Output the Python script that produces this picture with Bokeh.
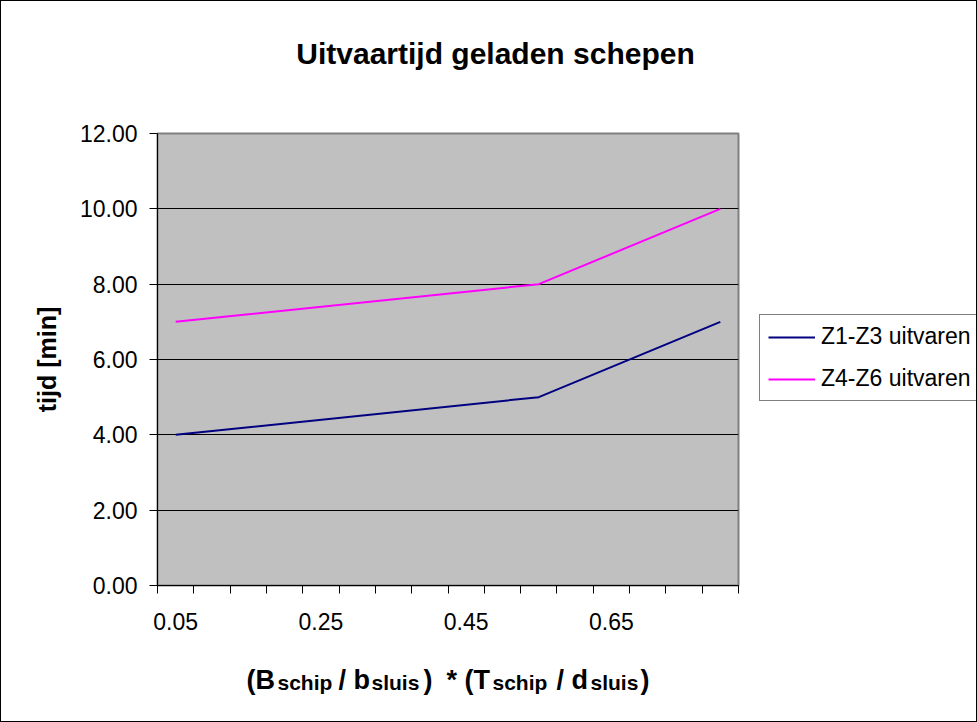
from bokeh.plotting import figure
from bokeh.layouts import column, row
from bokeh.models import (Legend, LegendItem, FixedTicker, NumeralTickFormatter,
                          Range1d, ColumnDataSource)
from bokeh.core.properties import value
from bokeh.embed import file_html
from bokeh.resources import INLINE

# ---- data -------------------------------------------------------------
ratio = [0.05, 0.55, 0.80]          # (B_schip/b_sluis)*(T_schip/d_sluis)
z1_z3 = [4.0, 5.0, 7.0]             # tijd [min], Z1-Z3 uitvaren
z4_z6 = [7.0, 8.0, 10.0]            # tijd [min], Z4-Z6 uitvaren
series_names = ["Z1-Z3 uitvaren", "Z4-Z6 uitvaren"]
series_colors = ["#000080", "#FF00FF"]
x_labels = [0.05, 0.25, 0.45, 0.65]
y_ticks = [0, 2, 4, 6, 8, 10, 12]
step = 0.05                          # category width on the x axis
n_cat = 16
title = "Uitvaartijd geladen schepen"

FONT = "Liberation Sans"
W_MAIN, W_LEG = 757, 218
H_TOP, H_MAIN, H_XT = 100, 549, 71
L, R, T, B = 156, 20, 32, 65         # borders around the plot area


def blank_panel(w, h):
    """A figure whose whole canvas is the frame, in pixel units."""
    f = figure(width=w, height=h, output_backend="svg", toolbar_location=None,
               x_axis_type=None, y_axis_type=None,
               x_range=Range1d(0, w), y_range=Range1d(0, h), min_border=0)
    f.outline_line_color = None
    f.background_fill_color = "white"
    f.border_fill_color = "white"
    return f


# ---- title strip ------------------------------------------------------
top = blank_panel(W_MAIN + W_LEG, H_TOP)
top.text(x=[494], y=[48], text=[title], text_font=value(FONT),
         text_font_size="30px", text_font_style="bold", text_color="black",
         text_align="center", text_baseline="alphabetic")

# ---- main chart -------------------------------------------------------
x0 = x_labels[0] - step / 2
p = figure(width=W_MAIN, height=H_MAIN, output_backend="svg", toolbar_location=None,
           x_range=Range1d(x0, x0 + n_cat * step),
           y_range=Range1d(y_ticks[0], y_ticks[-1]),
           min_border_left=L, min_border_right=R,
           min_border_top=T, min_border_bottom=B)

p.background_fill_color = "#C0C0C0"
p.border_fill_color = "white"
p.outline_line_color = "#808080"
p.outline_line_width = 2

# grid: horizontal lines only
p.xgrid.visible = False
p.ygrid.ticker = FixedTicker(ticks=y_ticks[1:-1])
p.ygrid.grid_line_color = "black"
p.ygrid.grid_line_width = 1

# y axis
ya = p.yaxis[0]
ya.ticker = FixedTicker(ticks=y_ticks)
ya.formatter = NumeralTickFormatter(format="0.00")
ya.axis_line_color = "black"
ya.major_tick_line_color = "black"
ya.major_tick_out = 8
ya.major_tick_in = 0
ya.minor_tick_line_color = None
ya.major_label_standoff = 12
ya.major_label_text_font = FONT
ya.major_label_text_font_size = "23px"
ya.major_label_text_color = "black"
ya.axis_label = "tijd [min]"
ya.axis_label_text_font = FONT
ya.axis_label_text_font_size = "25px"
ya.axis_label_text_font_style = "bold"
ya.axis_label_text_color = "black"
ya.axis_label_standoff = 16

# x axis: tick marks between categories, labels on every 4th category
xa = p.xaxis[0]
xa.ticker = FixedTicker(ticks=x_labels,
                        minor_ticks=[x0 + k * step for k in range(n_cat + 1)])
xa.formatter = NumeralTickFormatter(format="0.00")
xa.axis_line_color = "black"
xa.major_tick_out = 0
xa.major_tick_in = 0
xa.minor_tick_line_color = "black"
xa.minor_tick_out = 8
xa.minor_tick_in = 0
xa.major_label_standoff = 19
xa.major_label_text_font = FONT
xa.major_label_text_font_size = "23px"
xa.major_label_text_color = "black"

# series
p.line(ratio, z1_z3, line_color=series_colors[0], line_width=2)
p.line(ratio, z4_z6, line_color=series_colors[1], line_width=2)

# ---- legend strip to the right of the chart ---------------------------
leg = blank_panel(W_LEG, H_MAIN)
keys = [leg.line(ratio, ys, line_color=c, line_width=2, visible=False)
        for ys, c in zip([z1_z3, z4_z6], series_colors)]
legend = Legend(items=[LegendItem(label=n, renderers=[k])
                       for n, k in zip(series_names, keys)],
                location=(1, 184), orientation="vertical",
                border_line_color="black", border_line_width=1,
                background_fill_color="white", background_fill_alpha=1,
                inactive_fill_alpha=0,
                label_text_font=FONT, label_text_font_size="23px",
                label_text_color="black",
                glyph_width=47, glyph_height=24, label_height=24,
                label_standoff=6, spacing=15, padding=8, margin=0)
leg.add_layout(legend)

# ---- x axis title (with subscripts) in a strip below the chart --------
xt = blank_panel(W_MAIN + W_LEG, H_XT)
MAIN, SUB = 27, 21
BASE_MAIN, BASE_SUB = 42, 39          # baselines, px from the strip bottom
pieces = [("(B", False, 245), ("schip", True, 276), ("/", False, 337),
          ("b", False, 352), ("sluis", True, 370), (")", False, 422),
          ("*", False, 445), ("(T", False, 463), ("schip", True, 491),
          ("/", False, 555), ("d", False, 570), ("sluis", True, 589),
          (")", False, 639)]
src = ColumnDataSource(dict(
    x=[c for _, _, c in pieces],
    y=[BASE_SUB if s else BASE_MAIN for _, s, _ in pieces],
    text=[t for t, _, _ in pieces],
    size=[f"{SUB if s else MAIN}px" for _, s, _ in pieces]))
xt.text(x="x", y="y", text="text", source=src, text_font_size="size",
        text_font=value(FONT), text_font_style="bold", text_color="black",
        text_align="left", text_baseline="alphabetic")

page = column(top, row(p, leg, spacing=0), xt, spacing=0,
              styles={"border": "1px solid black", "background": "white"})

open("out.html", "w").write(file_html(page, INLINE))
